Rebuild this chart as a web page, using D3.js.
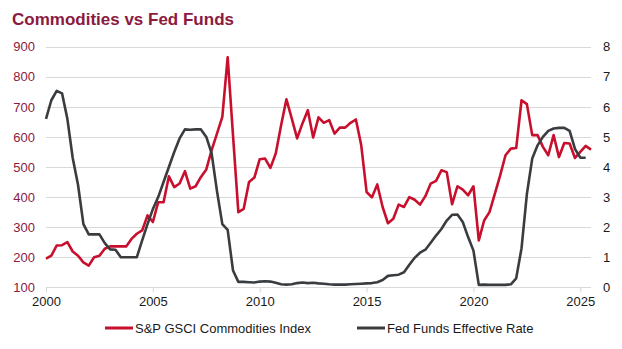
<!DOCTYPE html>
<html>
<head>
<meta charset="utf-8">
<script src="https://cdn.jsdelivr.net/npm/d3@7"></script>
<style>
  body { margin: 0; background: #fff; }
  svg { font-family: "Liberation Sans", Arial, sans-serif; }
</style>
</head>
<body>
<div id="chart"></div>
<script>
// quarterly observations, 2000 Q1 onwards
const startYear = 2000;
const gsci = [195, 205, 239, 240, 250, 219, 205, 183, 172, 200, 205, 228, 236, 236, 236, 236,
  261, 278, 289, 339, 317, 383, 383, 469, 433, 445, 486, 428, 436, 467, 492, 556,
  611, 667, 865, 605, 350, 361, 450, 465, 526, 528, 497, 545, 639, 725, 661, 595,
  645, 689, 598, 665, 647, 656, 611, 631, 631, 647, 658, 572, 417, 399, 442, 367,
  313, 328, 375, 367, 400, 391, 375, 403, 445, 454, 489, 483, 376, 436, 425, 406,
  436, 256, 322, 350, 411, 472, 539, 561, 563, 722, 709, 606, 606, 567, 539, 606,
  533, 580, 578, 530, 550, 570, 558];
const fedFunds = [5.6, 6.22, 6.53, 6.45, 5.6, 4.3, 3.4, 2.1, 1.76, 1.76, 1.76, 1.47, 1.26, 1.25, 1.0, 1.0,
  1.0, 1.0, 1.56, 2.1, 2.6, 3.0, 3.5, 4.0, 4.5, 4.95, 5.25, 5.24, 5.25, 5.25, 5.0, 4.45,
  3.2, 2.1, 1.91, 0.56, 0.18, 0.18, 0.17, 0.16, 0.19, 0.2, 0.19, 0.15, 0.1, 0.09, 0.1, 0.14,
  0.16, 0.14, 0.15, 0.13, 0.12, 0.1, 0.09, 0.09, 0.09, 0.1, 0.11, 0.12, 0.13, 0.14, 0.17, 0.24,
  0.38, 0.4, 0.42, 0.5, 0.75, 0.98, 1.15, 1.25, 1.48, 1.72, 1.94, 2.22, 2.41, 2.42, 2.17, 1.67,
  1.22, 0.08, 0.09, 0.08, 0.08, 0.08, 0.08, 0.1, 0.3, 1.3, 3.1, 4.28, 4.72, 5.0, 5.2, 5.28,
  5.3, 5.3, 5.2, 4.6, 4.31, 4.31];
const yearTicks = [2000, 2005, 2010, 2015, 2020, 2025];
const leftTicks = [100, 200, 300, 400, 500, 600, 700, 800, 900];
const rightTicks = [0, 1, 2, 3, 4, 5, 6, 7, 8];
const seriesNames = ['S&P GSCI Commodities Index', 'Fed Funds Effective Rate'];

const quarter = i => startYear + i / 4;

const width = 622, height = 349;
const margin = { top: 47, right: 31, bottom: 62, left: 46 };
const red = '#c8102e', dark = '#3a3d40', maroon = '#8b1a3f';

const svg = d3.select('#chart').append('svg')
  .attr('width', width)
  .attr('height', height);

const x = d3.scaleLinear().domain([2000, 2025.5]).range([margin.left, width - margin.right]);
const yL = d3.scaleLinear().domain([100, 900]).range([height - margin.bottom + 0.3, margin.top - 0.3]);
const yR = d3.scaleLinear().domain([0, 8]).range(yL.range());

svg.append('text')
  .attr('x', 12).attr('y', 25)
  .attr('fill', maroon)
  .attr('font-weight', 'bold')
  .attr('font-size', 17)
  .text('Commodities vs Fed Funds');

// gridlines
svg.append('g')
  .selectAll('line')
  .data(leftTicks.slice(1))
  .join('line')
  .attr('x1', x.range()[0]).attr('x2', x.range()[1])
  .attr('y1', d => Math.round(yL(d)) + 0.5).attr('y2', d => Math.round(yL(d)) + 0.5)
  .attr('stroke', '#d9d9d9');

// x axis
const xAxis = svg.append('g')
  .attr('transform', `translate(0,${Math.round(yL(100)) + 0.5})`)
  .call(d3.axisBottom(x).tickValues(yearTicks).tickFormat(d3.format('d')).tickSize(5).tickPadding(4));
xAxis.select('.domain').attr('stroke', '#d9d9d9').attr('d', `M${x.range()[0]},0H${x.range()[1]}`);
xAxis.selectAll('.tick line').attr('stroke', '#d9d9d9');
xAxis.selectAll('.tick text').attr('fill', '#1a1a1a').attr('font-size', 13).attr('font-family', null);

// left axis
const leftAxis = svg.append('g')
  .attr('transform', `translate(${margin.left - 11},0)`)
  .call(d3.axisLeft(yL).tickValues(leftTicks).tickSize(0).tickPadding(0));
leftAxis.select('.domain').remove();
leftAxis.selectAll('.tick text').attr('fill', maroon).attr('font-size', 13).attr('font-family', null);

// right axis
const rightAxis = svg.append('g')
  .attr('transform', `translate(${width - margin.right + 12},0)`)
  .call(d3.axisRight(yR).tickValues(rightTicks).tickSize(0).tickPadding(0));
rightAxis.select('.domain').remove();
rightAxis.selectAll('.tick text').attr('fill', '#1a1a1a').attr('font-size', 13).attr('font-family', null);

const lineL = d3.line().x((d, i) => x(quarter(i))).y(d => yL(d));
const lineR = d3.line().x((d, i) => x(quarter(i))).y(d => yR(d));

svg.append('path')
  .datum(gsci)
  .attr('d', lineL)
  .attr('fill', 'none')
  .attr('stroke', red)
  .attr('stroke-width', 2.6)
  .attr('stroke-linejoin', 'round');

svg.append('path')
  .datum(fedFunds)
  .attr('d', lineR)
  .attr('fill', 'none')
  .attr('stroke', dark)
  .attr('stroke-width', 2.6)
  .attr('stroke-linejoin', 'round');

// legend
const legend = svg.append('g').attr('transform', 'translate(0,328)');
const legendX = [105, 357];
[red, dark].forEach((c, k) => {
  legend.append('line')
    .attr('x1', legendX[k]).attr('x2', legendX[k] + 28)
    .attr('stroke', c).attr('stroke-width', 3);
  legend.append('text')
    .attr('x', legendX[k] + 30).attr('dy', '0.35em')
    .attr('font-size', 13).attr('fill', '#1a1a1a')
    .text(seriesNames[k]);
});
</script>
</body>
</html>
